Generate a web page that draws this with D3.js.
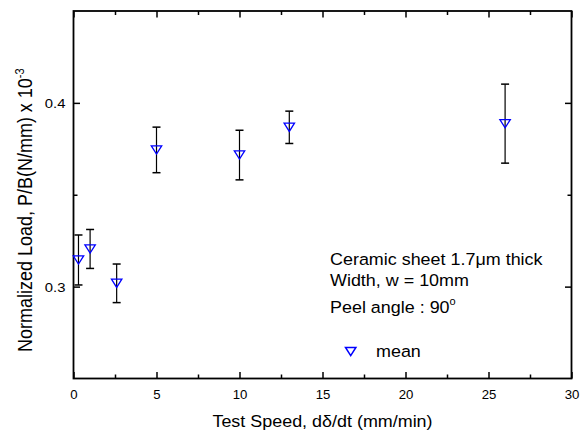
<!DOCTYPE html>
<html>
<head>
<meta charset="utf-8">
<script src="https://cdn.jsdelivr.net/npm/d3@7"></script>
<style>
  html, body { margin: 0; padding: 0; background: #fff; }
  svg { display: block; font-family: Arial, "Liberation Sans", sans-serif; }
</style>
</head>
<body>
<svg id="chart" width="587" height="432"></svg>
<script>
// ---- data ----
const speeds = [0.3, 1, 2.6, 5, 10, 13, 26];
const meanLoad = [0.3145, 0.3205, 0.3018, 0.3744, 0.3716, 0.3867, 0.3887];
const errLoad = [0.0136, 0.0106, 0.0105, 0.0124, 0.0135, 0.0088, 0.0215];

const xMajorTicks = [0, 5, 10, 15, 20, 25, 30];
const xMinorTicks = [2.5, 7.5, 12.5, 17.5, 22.5, 27.5];
const yMajorTicks = [0.3, 0.4];
const yMinorTicks = [0.35];
const xDomain = [0, 30];
const yDomain = [0.25, 0.45];

const xTitle = "Test Speed, dδ/dt (mm/min)";
const yTitle = "Normalized Load, P/B(N/mm) x 10";
const yTitleExp = "-3";
const noteLines = ["Ceramic sheet 1.7μm thick", "Width, w = 10mm", "Peel angle : 90"];
const noteDegree = "o";
const legendLabel = "mean";

// ---- layout ----
const W = 587, H = 432;
const L = 73.5, R = 571.5, T = 11, B = 378.5;
const HS = 1.1; // horizontal text stretch seen in the reference
const svg = d3.select("#chart");

const x = d3.scaleLinear().domain(xDomain).range([L, R]);
const y = d3.scaleLinear().domain(yDomain).range([B, T]);

const majorLen = 6.5, minorLen = 4;

function styleAxis(g) {
  g.select(".domain").remove();
  g.selectAll(".tick line").attr("stroke", "#000").attr("stroke-width", 1.5);
}

// bottom major with labels
const gxB = svg.append("g").attr("transform", `translate(0,${B})`)
  .call(d3.axisBottom(x).tickValues(xMajorTicks).tickSize(-majorLen).tickFormat(d3.format("d")));
styleAxis(gxB);
gxB.selectAll(".tick text")
  .attr("y", 21).attr("dy", null)
  .attr("font-size", 12).attr("fill", "#000")
  .attr("font-family", "Arial, 'Liberation Sans', sans-serif")
  .attr("transform", `scale(${HS},1)`);
svg.append("g").attr("transform", `translate(0,${B})`)
  .call(d3.axisBottom(x).tickValues(xMinorTicks).tickSize(-minorLen).tickFormat(""))
  .call(styleAxis);

// top mirrored
svg.append("g").attr("transform", `translate(0,${T})`)
  .call(d3.axisTop(x).tickValues(xMajorTicks).tickSize(-majorLen).tickFormat(""))
  .call(styleAxis);
svg.append("g").attr("transform", `translate(0,${T})`)
  .call(d3.axisTop(x).tickValues(xMinorTicks).tickSize(-minorLen).tickFormat(""))
  .call(styleAxis);

// left major with labels
const gyL = svg.append("g").attr("transform", `translate(${L},0)`)
  .call(d3.axisLeft(y).tickValues(yMajorTicks).tickSize(-majorLen).tickFormat(d3.format(".1f")));
styleAxis(gyL);
gyL.selectAll(".tick text")
  .attr("x", 0).attr("dy", "0.34em")
  .attr("font-size", 13.5).attr("fill", "#000")
  .attr("font-family", "Arial, 'Liberation Sans', sans-serif")
  .attr("transform", `translate(-8,0) scale(${HS},1)`);
svg.append("g").attr("transform", `translate(${L},0)`)
  .call(d3.axisLeft(y).tickValues(yMinorTicks).tickSize(-minorLen).tickFormat(""))
  .call(styleAxis);

// right mirrored
svg.append("g").attr("transform", `translate(${R},0)`)
  .call(d3.axisRight(y).tickValues(yMajorTicks).tickSize(-majorLen).tickFormat(""))
  .call(styleAxis);
svg.append("g").attr("transform", `translate(${R},0)`)
  .call(d3.axisRight(y).tickValues(yMinorTicks).tickSize(-minorLen).tickFormat(""))
  .call(styleAxis);

// frame
svg.append("rect")
  .attr("x", x(xDomain[0])).attr("y", y(yDomain[1]))
  .attr("width", x(xDomain[1]) - x(xDomain[0]))
  .attr("height", y(yDomain[0]) - y(yDomain[1]))
  .attr("fill", "none").attr("stroke", "#000").attr("stroke-width", 1.8);

// data
const data = speeds.map((s, i) => ({ s, m: meanLoad[i], e: errLoad[i] }));
const capHalf = 4;
const eb = svg.append("g").attr("stroke", "#000");
eb.selectAll("line.v").data(data).join("line").attr("class", "v")
  .attr("x1", d => x(d.s)).attr("x2", d => x(d.s))
  .attr("y1", d => y(d.m + d.e)).attr("y2", d => y(d.m - d.e))
  .attr("stroke-width", 1.2);
eb.selectAll("line.ct").data(data).join("line").attr("class", "ct")
  .attr("x1", d => x(d.s) - capHalf).attr("x2", d => x(d.s) + capHalf)
  .attr("y1", d => y(d.m + d.e)).attr("y2", d => y(d.m + d.e))
  .attr("stroke-width", 1.5);
eb.selectAll("line.cb").data(data).join("line").attr("class", "cb")
  .attr("x1", d => x(d.s) - capHalf).attr("x2", d => x(d.s) + capHalf)
  .attr("y1", d => y(d.m - d.e)).attr("y2", d => y(d.m - d.e))
  .attr("stroke-width", 1.5);

const triW = 5.2, triH = 4.1;
function triPath(cx, cy) {
  return `M${cx - triW},${cy - triH}L${cx + triW},${cy - triH}L${cx},${cy + triH}Z`;
}
svg.append("g").selectAll("path").data(data).join("path")
  .attr("d", d => triPath(x(d.s), y(d.m)))
  .attr("fill", "none").attr("stroke", "#0000ff").attr("stroke-width", 1.3);

// text helper
function txt(px, py, str, size, anchor) {
  return svg.append("text")
    .attr("transform", `translate(${px},${py}) scale(${HS},1)`)
    .attr("text-anchor", anchor || "start")
    .attr("font-size", size).attr("fill", "#000")
    .text(str);
}

// axis titles
txt((L + R) / 2, 426.5, xTitle, 16.3, "middle");
const yt = svg.append("text")
  .attr("transform", `translate(32.3,352) scale(${HS},1) rotate(-90)`)
  .attr("font-size", 18).attr("fill", "#000")
  .text(yTitle);
yt.append("tspan").attr("dy", -8).attr("font-size", 11).text(yTitleExp);

// annotation
const noteX = 330, noteY = [265, 285.5, 313.3];
noteLines.forEach((s, i) => {
  const t = txt(noteX, noteY[i], s, 16.3, "start");
  if (i === noteLines.length - 1) {
    t.append("tspan").attr("dy", -8).attr("font-size", 10).text(noteDegree);
  }
});

// legend
svg.append("path").attr("d", triPath(350.7, 351.5))
  .attr("fill", "none").attr("stroke", "#0000ff").attr("stroke-width", 1.5);
txt(376, 357.3, legendLabel, 16.3, "start");
</script>
</body>
</html>
